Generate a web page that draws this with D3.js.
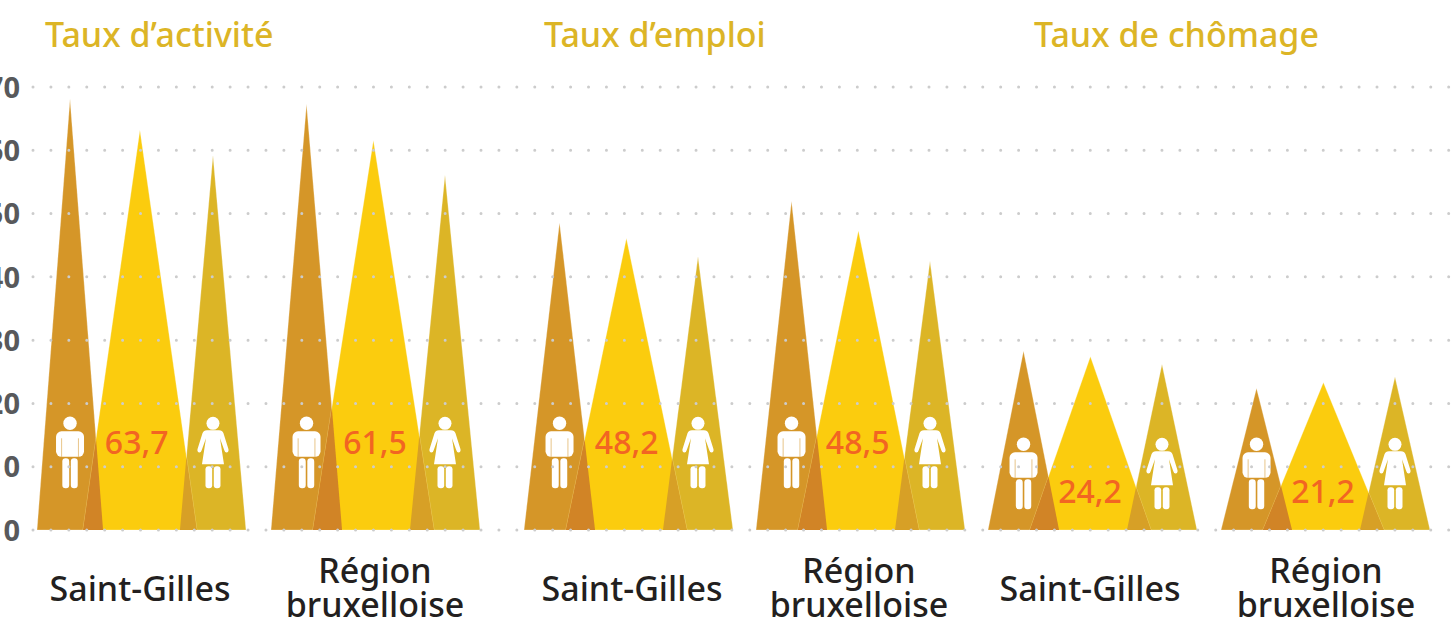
<!DOCTYPE html>
<html>
<head>
<meta charset="utf-8">
<style>
	body { margin: 0; background: #fff; overflow: hidden; }
	text { font-family: "Noto Sans", sans-serif; }
</style>
<script src="https://cdn.jsdelivr.net/npm/d3@7"></script>
</head>
<body>
<div id="container"></div>
<script>
//Chart data
var titles = ["Taux d’activité", "Taux d’emploi", "Taux de chômage"];
var groups = ["a-sg", "a-rb", "e-sg", "e-rb", "c-sg", "c-rb"];
var groupNames = [["Saint-Gilles"], ["Région", "bruxelloise"], ["Saint-Gilles"], ["Région", "bruxelloise"], ["Saint-Gilles"], ["Région", "bruxelloise"]];
var men = [68.1, 67.3, 48.6, 52, 28.3, 22.4];
var total = [63.2, 61.6, 46.1, 47.3, 27.4, 23.3];
var women = [59.2, 56.1, 43.2, 42.5, 26.2, 24.2];
var totalLabels = ["63,7", "61,5", "48,2", "48,5", "24,2", "21,2"];
var yTicks = [0, 10, 20, 30, 40, 50, 60, 70];

var w = 1453;
var h = 621;
var colors = { men: "#d59628", total: "#fbcc0e", women: "#dcb526", menOverlap: "#d18426", womenOverlap: "#d7a026" };

var svg = d3.select("#container")
	.append("svg")
	.attr("width", w)
	.attr("height", h);

var y = d3.scaleLinear().domain([0, 70]).range([530, 87]);

//Left edge of each group, they are not evenly spaced
var groupX = d3.scaleOrdinal().domain(groups).range([37, 271, 524, 756, 988, 1221]);
var groupSpan = 209;
//Share of the group taken by each triangle base
var baseShares = { men: [0, 0.34], total: [0.2, 0.78], women: [0.665, 1] };
var firstShares = { men: [0, 0.316], total: [0.22, 0.765], women: [0.684, 1] };

function baseOf(i, key) {
	var shares = i === 0 ? firstShares : baseShares;
	var left = groupX(groups[i]);
	var x = d3.scaleLinear().domain([0, 1]).range([left, left + groupSpan]);
	return [x(shares[key][0]), x(shares[key][1])];
}

function triangle(i, key, value) {
	var b = baseOf(i, key);
	return { x0: b[0], x1: b[1], xm: (b[0] + b[1]) / 2, top: y(value), bottom: y(0) };
}

function points(list) {
	return list.map(function(p) { return p.join(","); }).join(" ");
}

//Where the rising edge of one triangle meets the falling edge of the other
function overlap(a, b) {
	var s1 = (a.bottom - a.top) / (a.x1 - a.xm);
	var s2 = (b.bottom - b.top) / (b.xm - b.x0);
	var px = (s1 * a.x1 + s2 * b.x0) / (s1 + s2);
	var py = a.bottom - s1 * (a.x1 - px);
	return [[b.x0, a.bottom], [a.x1, a.bottom], [px, py]];
}

var chart = svg.append("g");

groups.forEach(function(g, i) {
	var tMen = triangle(i, "men", men[i]);
	var tTotal = triangle(i, "total", total[i]);
	var tWomen = triangle(i, "women", women[i]);

	[[tMen, colors.men], [tWomen, colors.women], [tTotal, colors.total]].forEach(function(t) {
		chart.append("polygon")
			.attr("points", points([[t[0].x0, t[0].bottom], [t[0].xm, t[0].top], [t[0].x1, t[0].bottom]]))
			.attr("fill", t[1])
			.attr("stroke", "#fff")
			.attr("stroke-opacity", 0.35)
			.attr("stroke-width", 0.8);
	});

	chart.append("polygon")
		.attr("points", points(overlap(tMen, tTotal)))
		.attr("fill", colors.menOverlap);
	chart.append("polygon")
		.attr("points", points(overlap(tTotal, tWomen)))
		.attr("fill", colors.womenOverlap);

	//The last two groups are short, so icons and labels sit lower
	var low = i >= 4 ? 21 : 0;
	drawMan(tMen.xm, 423.3 + low);
	drawWoman(tWomen.xm, 423.3 + low);
});

function drawMan(cx, cy) {
	var g = chart.append("g").attr("transform", "translate(" + cx + "," + cy + ")").attr("fill", "#fff");
	g.append("circle").attr("r", 6.7);
	g.append("rect").attr("x", -14).attr("y", 8).attr("width", 28).attr("height", 25.5).attr("rx", 5.5);
	g.append("rect").attr("x", -7.7).attr("y", 35).attr("width", 6.9).attr("height", 30).attr("rx", 3.2);
	g.append("rect").attr("x", 0.8).attr("y", 35).attr("width", 6.9).attr("height", 30).attr("rx", 3.2);
	[-8.4, 8.4].forEach(function(dx) {
		g.append("line")
			.attr("x1", dx).attr("x2", dx)
			.attr("y1", 15).attr("y2", 33.5)
			.attr("stroke", colors.men)
			.attr("stroke-opacity", 0.55)
			.attr("stroke-width", 1);
	});
}

function drawWoman(cx, cy) {
	var g = chart.append("g").attr("transform", "translate(" + cx + "," + cy + ")").attr("fill", "#fff");
	g.append("circle").attr("r", 6.5);
	g.append("path").attr("d", "M-6,7 L6,7 Q9.5,7 10.5,10 L15.5,26 Q16,29 13.5,29.3 Q12,29.3 11.3,27 L7,15 L11,41 L-11,41 L-7,15 L-11.3,27 Q-12,29.3 -13.5,29.3 Q-16,29 -15.5,26 L-10.5,10 Q-9.5,7 -6,7 Z");
	g.append("rect").attr("x", -7.5).attr("y", 43).attr("width", 6.7).attr("height", 22).attr("rx", 3);
	g.append("rect").attr("x", 0.8).attr("y", 43).attr("width", 6.7).attr("height", 22).attr("rx", 3);
}

//Axis with the ticks used as dotted grid lines
var axis = svg.append("g")
	.attr("transform", "translate(20,1)")
	.call(d3.axisLeft(y).tickValues(yTicks).tickSize(0).tickPadding(0).tickFormat(d3.format("d")));
axis.select(".domain").remove();
axis.selectAll("text")
	.attr("font-size", 29)
	.attr("font-weight", 700)
	.attr("fill", "#58595b")
	.style("font-family", "'Noto Sans', sans-serif");

svg.append("g").selectAll("line")
	.data(yTicks)
	.enter()
	.append("line")
	.attr("x1", 33)
	.attr("x2", w)
	.attr("y1", function(d) { return y(d); })
	.attr("y2", function(d) { return y(d); })
	.attr("stroke", "#cccccc")
	.attr("stroke-width", 3)
	.attr("stroke-linecap", "round")
	.attr("stroke-dasharray", "0 17.92");

//Value of the total in the middle triangle
svg.append("g").selectAll("text")
	.data(totalLabels)
	.enter()
	.append("text")
	.text(function(d) { return d; })
	.attr("text-anchor", "middle")
	.attr("x", function(d, i) { return [136.7, 375, 626.7, 857.7, 1090, 1323][i]; })
	.attr("y", function(d, i) { return i >= 4 ? 503 : 454; })
	.attr("font-size", 32)
	.attr("font-weight", 500)
	.attr("fill", "#f26522");

//Section titles
svg.append("g").selectAll("text")
	.data(titles)
	.enter()
	.append("text")
	.text(function(d) { return d; })
	.attr("x", function(d, i) { return [45, 544, 1034][i]; })
	.attr("y", 47)
	.attr("font-size", 34)
	.attr("font-weight", 500)
	.attr("fill", colors.women);

//Group names under the triangles
var names = svg.append("g").selectAll("text")
	.data(groupNames)
	.enter()
	.append("text")
	.attr("text-anchor", "middle")
	.attr("font-size", 34)
	.attr("font-weight", 500)
	.attr("fill", "#231f20");

names.each(function(lines, i) {
	var cx = [140, 375, 632, 859, 1090, 1326][i];
	var first = lines.length === 1 ? 601 : 583;
	d3.select(this).selectAll("tspan")
		.data(lines)
		.enter()
		.append("tspan")
		.text(function(d) { return d; })
		.attr("x", cx)
		.attr("y", function(d, j) { return first + j * 34; });
});
</script>
</body>
</html>
